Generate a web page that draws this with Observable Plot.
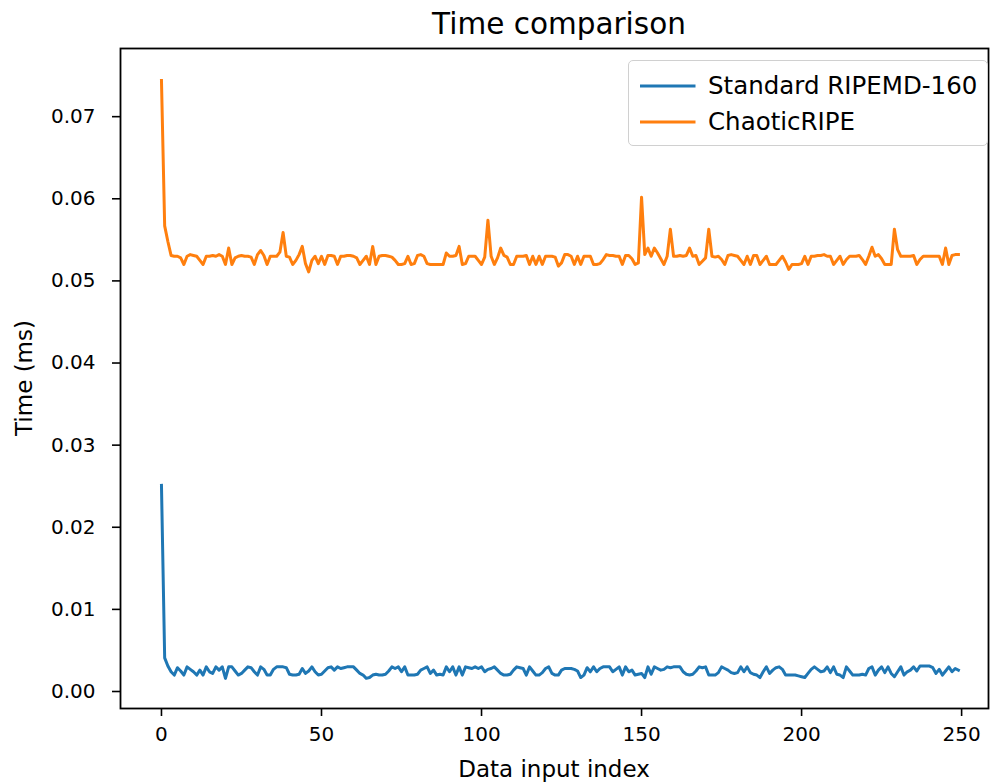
<!DOCTYPE html>
<html>
<head>
<meta charset="utf-8">
<script src="https://cdn.jsdelivr.net/npm/d3@7"></script>
<script src="https://cdn.jsdelivr.net/npm/@observablehq/plot@0.6"></script>
<style>
  body { margin: 0; background: #fff; font-family: "DejaVu Sans", sans-serif; }
  #wrap { position: relative; width: 992px; height: 783px; overflow: hidden; }
  #title { position: absolute; top: 7px; left: 559px; transform: translateX(-50%); font-size: 29.5px; white-space: nowrap; color: #000; }
  #ylab { position: absolute; left: 24px; top: 378px; transform: translate(-50%, -50%) rotate(-90deg); font-size: 23px; white-space: nowrap; }
  #xlab { position: absolute; left: 554px; top: 756px; transform: translateX(-50%); font-size: 23px; white-space: nowrap; }
  #legend { position: absolute; left: 628px; top: 60px; width: 358px; height: 84px; border: 1.5px solid #d0d0d0; border-radius: 5px; background: rgba(255,255,255,0.8); }
  .item { position: absolute; left: 0; height: 30px; font-size: 24.5px; white-space: nowrap; }
  .item svg { position: absolute; left: 11px; top: 0; }
  .item span { position: absolute; left: 79px; top: 0; line-height: 30px; }
</style>
</head>
<body>
<div id="wrap">
  <div id="title">Time comparison</div>
  <div id="ylab">Time (ms)</div>
  <div id="xlab">Data input index</div>
  <div id="legend"></div>
</div>
<script>
const seriesNames = ["Standard RIPEMD-160", "ChaoticRIPE"];
const seriesColors = ["#1f77b4", "#ff7f0e"];
const xTicks = [0, 50, 100, 150, 200, 250];
const yTicks = [0, 0.01, 0.02, 0.03, 0.04, 0.05, 0.06, 0.07];

const standard = [
0.0251,0.0041,0.0031,0.0024,0.002,0.0029,0.0025,0.002,0.003,0.0027,
0.0024,0.002,0.0026,0.002,0.003,0.0024,0.0022,0.003,0.0026,0.003,
0.0016,0.003,0.003,0.0025,0.002,0.0022,0.0026,0.003,0.0029,0.0024,
0.002,0.003,0.0027,0.002,0.002,0.0027,0.003,0.003,0.003,0.0029,
0.0021,0.002,0.002,0.0021,0.0028,0.0022,0.0025,0.003,0.0024,0.002,
0.0021,0.0025,0.0029,0.003,0.0026,0.003,0.0028,0.0029,0.003,0.003,
0.003,0.0026,0.0022,0.002,0.0016,0.0017,0.002,0.0021,0.002,0.002,
0.0021,0.0025,0.003,0.0028,0.003,0.0024,0.003,0.002,0.002,0.002,
0.0021,0.0026,0.0028,0.003,0.0022,0.0026,0.002,0.0021,0.002,0.003,
0.0024,0.003,0.002,0.003,0.002,0.003,0.0029,0.0028,0.003,0.0028,
0.003,0.0024,0.0027,0.0028,0.003,0.0026,0.0022,0.002,0.002,0.0021,
0.0026,0.003,0.0029,0.0028,0.002,0.003,0.0025,0.002,0.002,0.0023,
0.0028,0.003,0.0022,0.002,0.002,0.0026,0.0028,0.0028,0.0028,0.0027,
0.0025,0.0017,0.002,0.0029,0.0024,0.003,0.0024,0.0028,0.003,0.003,
0.003,0.0024,0.0027,0.003,0.002,0.003,0.0024,0.0026,0.002,0.0021,
0.0022,0.0017,0.003,0.0021,0.003,0.0028,0.0026,0.0027,0.003,0.0029,
0.003,0.003,0.003,0.0024,0.0021,0.002,0.0021,0.0025,0.003,0.0029,
0.003,0.002,0.002,0.002,0.0023,0.003,0.0028,0.0026,0.0023,0.0022,
0.0023,0.003,0.0024,0.003,0.0023,0.0021,0.002,0.0017,0.0024,0.003,
0.0022,0.0026,0.0029,0.003,0.0027,0.002,0.002,0.002,0.002,0.0019,
0.0018,0.0017,0.0022,0.0027,0.003,0.0027,0.0024,0.0025,0.003,0.0023,
0.003,0.0021,0.002,0.0017,0.003,0.0025,0.002,0.002,0.002,0.0021,
0.002,0.0028,0.003,0.002,0.0026,0.003,0.0023,0.003,0.0022,0.0018,
0.0024,0.003,0.002,0.0024,0.0026,0.003,0.0025,0.0031,0.0031,0.0031,
0.0031,0.0029,0.0022,0.0027,0.002,0.0025,0.003,0.0024,0.0028,0.0026
];

const chaotic = [
0.0744,0.0567,0.0548,0.0531,0.053,0.053,0.0528,0.052,0.053,0.0532,
0.0531,0.053,0.0525,0.052,0.053,0.053,0.0531,0.053,0.0532,0.053,
0.052,0.054,0.052,0.0528,0.053,0.0531,0.053,0.053,0.0529,0.052,
0.0532,0.0537,0.0531,0.052,0.053,0.053,0.053,0.0535,0.0559,0.053,
0.0529,0.052,0.0525,0.0532,0.0542,0.0521,0.0511,0.0525,0.053,0.0521,
0.053,0.052,0.0531,0.0531,0.053,0.052,0.053,0.053,0.0531,0.0531,
0.053,0.0528,0.052,0.0525,0.053,0.052,0.0542,0.052,0.053,0.0531,
0.0531,0.053,0.0529,0.0525,0.052,0.052,0.0521,0.053,0.052,0.0521,
0.0531,0.0532,0.053,0.0521,0.052,0.052,0.052,0.052,0.052,0.0534,
0.053,0.053,0.0531,0.0542,0.052,0.0521,0.053,0.053,0.053,0.0525,
0.052,0.0529,0.0574,0.053,0.052,0.0528,0.054,0.0531,0.0529,0.052,
0.052,0.053,0.053,0.053,0.0531,0.052,0.053,0.052,0.053,0.052,
0.053,0.053,0.053,0.0529,0.0518,0.0522,0.0532,0.0532,0.053,0.052,
0.053,0.052,0.053,0.053,0.053,0.052,0.052,0.0521,0.0526,0.0532,
0.0531,0.0531,0.053,0.053,0.052,0.0531,0.0531,0.0527,0.052,0.0522,
0.0602,0.0532,0.054,0.053,0.054,0.0534,0.0527,0.052,0.053,0.0563,
0.053,0.053,0.0531,0.053,0.0531,0.054,0.053,0.0531,0.052,0.0524,
0.0528,0.0563,0.053,0.0529,0.053,0.0526,0.052,0.0531,0.0532,0.0531,
0.053,0.0525,0.052,0.053,0.052,0.0531,0.0531,0.052,0.0525,0.053,
0.052,0.052,0.052,0.0525,0.053,0.0523,0.0514,0.052,0.052,0.052,
0.0521,0.053,0.052,0.053,0.053,0.0531,0.0531,0.0532,0.053,0.053,
0.052,0.0525,0.053,0.052,0.0526,0.053,0.053,0.053,0.0531,0.0526,
0.052,0.053,0.0541,0.053,0.0532,0.0527,0.052,0.052,0.052,0.0563,
0.0538,0.053,0.053,0.053,0.053,0.0531,0.052,0.0526,0.053,0.053,
0.053,0.053,0.053,0.053,0.052,0.054,0.052,0.0531,0.0532,0.0532
];

const rows = [
  ...standard.map((v, i) => ({ i, v, s: seriesNames[0] })),
  ...chaotic.map((v, i) => ({ i, v, s: seriesNames[1] }))
];

const chart = Plot.plot({
  width: 992,
  height: 783,
  marginLeft: 120,
  marginRight: 4,
  marginTop: 48,
  marginBottom: 75,
  x: { domain: [-12.8, 258.4] },
  y: { domain: [-0.00207, 0.0783] },
  color: { domain: seriesNames, range: seriesColors },
  style: { fontFamily: "DejaVu Sans", fontSize: "20px", color: "#000", background: "transparent", overflow: "visible" },
  marks: [
    Plot.axisX({ ticks: xTicks, tickSize: 8, tickPadding: 10, fontSize: 20, label: null, strokeWidth: 1.6, tickFormat: d => String(d) }),
    Plot.axisY({ ticks: yTicks, tickSize: 8, tickPadding: 17, fontSize: 20, label: null, strokeWidth: 1.6, tickFormat: d => d.toFixed(2) }),
    Plot.lineY(rows, { x: "i", y: "v", stroke: "s", z: "s", strokeWidth: 3, strokeLinejoin: "round", strokeLinecap: "square" }),
    Plot.frame({ stroke: "black", strokeWidth: 1.8 })
  ]
});
chart.style.position = "absolute";
chart.style.left = "0";
chart.style.top = "0";
const wrap = document.getElementById("wrap");
wrap.insertBefore(chart, wrap.firstChild);

const legend = document.getElementById("legend");
seriesNames.forEach((name, k) => {
  const item = document.createElement("div");
  item.className = "item";
  item.style.top = (10 + k * 36) + "px";
  item.innerHTML = `<svg width="56" height="30"><line x1="1" y1="15" x2="54" y2="15" stroke="${seriesColors[k]}" stroke-width="3" stroke-linecap="square"/></svg><span>${name}</span>`;
  legend.appendChild(item);
});
</script>
</body>
</html>
